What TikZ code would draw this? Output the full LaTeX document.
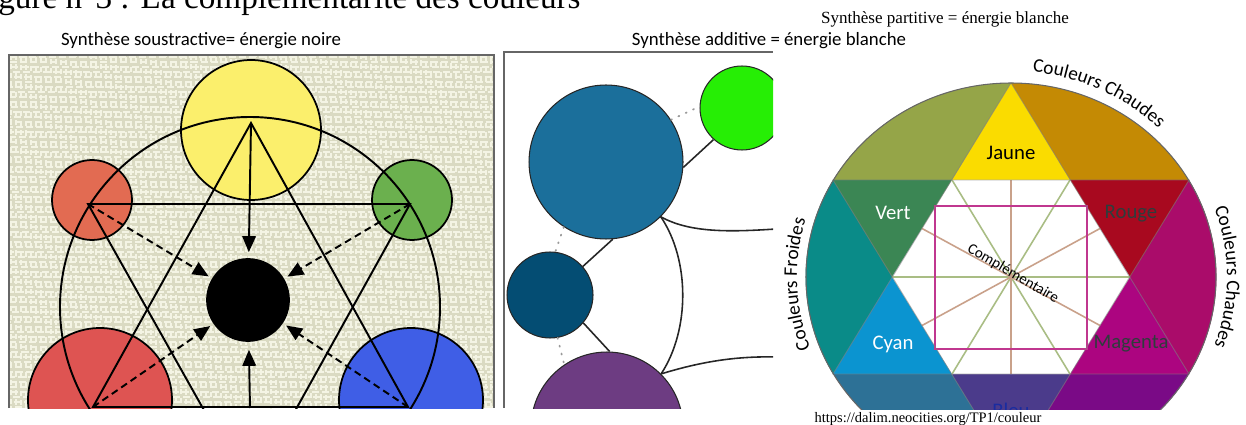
\documentclass[tikz,border=0pt]{standalone}
\usepackage{fontspec}
\setmainfont{Liberation Serif}
\setsansfont{Carlito}
\usetikzlibrary{arrows.meta,calc,decorations.text}

\definecolor{paperbase}{HTML}{DADAC2}
\definecolor{paperlight}{HTML}{F4F4E4}
\definecolor{sunyellow}{HTML}{FBEF6C}
\definecolor{coral}{HTML}{E26B52}
\definecolor{leaf}{HTML}{6BB04E}
\definecolor{brick}{HTML}{DE5452}
\definecolor{royal}{HTML}{3F5EE6}
\definecolor{petrol}{HTML}{1B6F9B}
\definecolor{neon}{HTML}{26EE05}
\definecolor{navy}{HTML}{044D73}
\definecolor{plum}{HTML}{6D3C82}
\definecolor{wOlive}{HTML}{95A548}
\definecolor{wOchre}{HTML}{C48A04}
\definecolor{wCrimson}{HTML}{AA0C6A}
\definecolor{wPurple}{HTML}{7A0A86}
\definecolor{wSteel}{HTML}{2D7196}
\definecolor{wTeal}{HTML}{0A8B88}
\definecolor{wJaune}{HTML}{FADC00}
\definecolor{wRouge}{HTML}{A8091F}
\definecolor{wMagenta}{HTML}{AC0580}
\definecolor{wBleu}{HTML}{4B3B8B}
\definecolor{wCyan}{HTML}{0B94D0}
\definecolor{wVert}{HTML}{3B8654}
\definecolor{spokeBrown}{HTML}{C9A18A}
\definecolor{spokeGreen}{HTML}{A9BD84}
\definecolor{squareMag}{HTML}{C0378F}
\definecolor{darkText}{HTML}{2E3D3C}
\definecolor{bleuText}{HTML}{1A2CA0}

\newcommand\wheelfont{\sffamily\fontsize{11}{13}\selectfont}

\begin{document}
\begin{tikzpicture}[x=0.02cm,y=-0.02cm,
    every node/.style={inner sep=0pt},
    ball/.style={circle,draw=black,line width=1pt,inner sep=0pt},
    bubble/.style={circle,draw=black!85,line width=0.6pt,inner sep=0pt},
    hexline/.style={draw=black,line width=1.1pt},
    solidarrow/.style={hexline,-{Triangle[length=0.32cm,width=0.27cm]}},
    dasharrow/.style={solidarrow,dash pattern=on 4pt off 2.5pt,shorten >=0.08cm},
    link/.style={draw=black!85,line width=0.9pt},
    dots/.style={draw=black!40,line width=1pt,dash pattern=on 0.6pt off 4pt,line cap=round},
    panel/.style={draw=black!60,line width=0.8pt},
    wlabel/.style={font=\sffamily\fontsize{11.8}{14}\selectfont},
    spoke/.style={line width=0.9pt},
    seam/.style={draw=black!50,line width=0.5pt,opacity=0.6}]

  \useasboundingbox (0,0) rectangle (1246,425);
  \clip (0,0) rectangle (1246,425);

  % heading, cut at the top
  \node[anchor=base west,font=\fontsize{18.9}{20}\selectfont] (heading) at (-2,9) {gure n°3 : La complémentarité des couleurs};

  % titles
  \node[anchor=base,font=\sffamily\fontsize{10.7}{12}\selectfont] (ttlSous) at (201,46) {Synthèse soustractive= énergie noire};
  \node[anchor=base,font=\fontsize{9.7}{11}\selectfont] (ttlPart) at (945,24) {Synthèse partitive = énergie blanche};
  \node[anchor=base,font=\fontsize{8.25}{10}\selectfont] (url) at (928,422) {https://dalim.neocities.org/TP1/couleur};

  % left panel: subtractive
  \begin{scope}
    \clip (9,55) rectangle (494,408);
    \fill[paperbase] (9,55) rectangle (494,408);
    \foreach \yy in {57,62,...,407}
      \draw[paperlight,line width=1.2pt,dash pattern=on 4pt off 1.7pt,dash phase=\yy pt] (9,\yy) -- (494,\yy);
    \foreach \xx in {11,16,...,494}
      \draw[paperlight,line width=1.2pt,dash pattern=on 3pt off 2.3pt,dash phase=\xx pt] (\xx,55) -- (\xx,408);

    \node[ball,fill=sunyellow,minimum size=2.8cm] (yel) at (251,130) {};
    \node[ball,fill=coral,minimum size=1.6cm] (org) at (92,200) {};
    \node[ball,fill=leaf,minimum size=1.6cm] (grn) at (412,200) {};
    \node[ball,fill=black,minimum size=1.64cm] (blk) at (248,300) {};
    \node[ball,fill=brick,minimum size=2.88cm] (red) at (100,400) {};
    \node[ball,fill=royal,minimum size=2.88cm] (blu) at (411,400) {};

    \coordinate (vT) at (251,123);
    \coordinate (vUL) at (88,204);
    \coordinate (vUR) at (410,204);
    \coordinate (vLL) at (93,407);
    \coordinate (vLR) at (408,407);
    \coordinate (vB) at (250,492);
    \coordinate (vBot) at (250,408);

    \draw[hexline] (250,307) circle[radius=190];
    \draw[hexline] (vUL) -- (vUR) -- (vB) -- cycle;
    \draw[hexline] (vT) -- (vLL) -- (vLR) -- cycle;

    \path (vT) edge[solidarrow,shorten >=0.12cm] (blk);
    \path (vBot) edge[solidarrow,shorten >=0.16cm] (blk);
    \path (vUL) edge[dasharrow] (blk);
    \path (vUR) edge[dasharrow] (blk);
    \path (vLL) edge[dasharrow] (blk);
    \path (vLR) edge[dasharrow] (blk);
  \end{scope}
  \draw[panel] (9,408) -- (9,55) -- (494,55) -- (494,408);

  % middle panel: additive
  \begin{scope}
    \clip (504,52) rectangle (773,408);
    \node[bubble,fill=petrol,minimum size=3.08cm] (bb) at (606,162) {};
    \node[bubble,fill=neon,minimum size=1.68cm] (gr) at (742,108) {};
    \node[bubble,fill=navy,minimum size=1.72cm] (db) at (550,295) {};
    \node[bubble,fill=plum,minimum size=3.04cm] (pu) at (607,428) {};
    \coordinate (endA) at (776,229);
    \coordinate (endB) at (776,357);

    \path (bb.-4) edge[link] (gr.-132);
    \path (bb.-85) edge[link] (db.41);
    \path (db.-40) edge[link] (pu.88);
    \path (bb.33) edge[dots] (gr.178);
    \path (bb.-123) edge[dots] (db.83);
    \path (db.-80) edge[dots] (pu.124);
    \draw[link] (bb.-45) .. controls (690,233) and (730,232) .. (endA);
    \draw[link] (bb.-45) .. controls (690,260) and (690,330) .. (pu.45);
    \draw[link] (pu.45) .. controls (700,362) and (735,356) .. (endB);
  \end{scope}
  \draw[panel] (504,408) -- (504,52) -- (773,52);
  \node[anchor=base,font=\sffamily\fontsize{10.7}{12}\selectfont] (ttlAdd) at (769,46) {Synthèse additive = énergie blanche};

  % right panel: colour wheel
  \coordinate (wc) at (1011,277);
  \coordinate (wT) at (1011,83);
  \coordinate (wUR) at (1189,180);
  \coordinate (wLR) at (1189,374);
  \coordinate (wB) at (1011,471);
  \coordinate (wLL) at (833,374);
  \coordinate (wUL) at (833,180);
  \coordinate (h1) at (952,180);
  \coordinate (h2) at (1070,180);
  \coordinate (h3) at (1130,277);
  \coordinate (h4) at (1070,374);
  \coordinate (h5) at (952,374);
  \coordinate (h6) at (892,277);
  \begin{scope}
    \clip (775,0) rectangle (1246,409);
    \fill[wOlive] (wc) -- (wUL) arc[start angle=210,end angle=270,x radius=205,y radius=194] -- cycle;
    \fill[wOchre] (wc) -- (wT) arc[start angle=270,end angle=330,x radius=205,y radius=194] -- cycle;
    \fill[wCrimson] (wc) -- (wUR) arc[start angle=330,end angle=390,x radius=205,y radius=194] -- cycle;
    \fill[wPurple] (wc) -- (wLR) arc[start angle=30,end angle=90,x radius=205,y radius=194] -- cycle;
    \fill[wSteel] (wc) -- (wB) arc[start angle=90,end angle=150,x radius=205,y radius=194] -- cycle;
    \fill[wTeal] (wc) -- (wLL) arc[start angle=150,end angle=210,x radius=205,y radius=194] -- cycle;

    \fill[wJaune] (wT) -- (h1) -- (h2) -- cycle;
    \fill[wRouge] (h2) -- (wUR) -- (h3) -- cycle;
    \fill[wMagenta] (h3) -- (wLR) -- (h4) -- cycle;
    \fill[wBleu] (h4) -- (wB) -- (h5) -- cycle;
    \fill[wCyan] (h5) -- (wLL) -- (h6) -- cycle;
    \fill[wVert] (h6) -- (wUL) -- (h1) -- cycle;
    \fill[white] (h1) -- (h2) -- (h3) -- (h4) -- (h5) -- (h6) -- cycle;

    \draw[spoke,spokeGreen] (h6) -- (h3);
    \draw[spoke,spokeGreen] (h1) -- (h4);
    \draw[spoke,spokeGreen] (h2) -- (h5);
    \draw[spoke,spokeBrown] ($(h1)!.5!(h2)$) -- ($(h4)!.5!(h5)$);
    \draw[spoke,spokeBrown] ($(h6)!.5!(h1)$) -- ($(h3)!.5!(h4)$);
    \draw[spoke,spokeBrown] ($(h5)!.5!(h6)$) -- ($(h2)!.5!(h3)$);
    \draw[squareMag,line width=1pt] (935,206) rectangle (1087,349);

    \draw[seam] (wT) -- (wLL) -- (wLR) -- cycle;
    \draw[seam] (wUL) -- (wUR) -- (wB) -- cycle;
    \draw[draw=black!60,line width=0.6pt] (wc) ellipse[x radius=205,y radius=194];

    \node[wlabel,text=black] (lJaune) at (1011,153) {Jaune};
    \node[wlabel,text=white] (lVert) at (893,213) {Vert};
    \node[wlabel,text=darkText] (lRouge) at (1131,214) {Rouge};
    \node[wlabel,text=white] (lCyan) at (893,344) {Cyan};
    \node[wlabel,text=darkText] (lMagenta) at (1131,344) {Magenta};
    \node[wlabel,text=bleuText] (lBleu) at (1011,410) {Bleu};
    \node[font=\sffamily\fontsize{8.6}{10}\selectfont,rotate=-30] (lCompl) at (1013,274) {Complémentaire};
  \end{scope}

  \path[decorate,decoration={text along path,text={|\wheelfont|Couleurs Chaudes},text align=center}]
    ($(wc)+(260:213 and 206)$) arc[start angle=260,end angle=330,x radius=213,y radius=206];
  \path[decorate,decoration={text along path,text={|\wheelfont|Couleurs Chaudes},text align=center}]
    ($(wc)+(-30:216 and 204)$) arc[start angle=-30,end angle=30,x radius=216,y radius=204];
  \path[decorate,decoration={text along path,text={|\wheelfont|Couleurs Froides},text align=center}]
    ($(wc)+(148:214 and 204)$) arc[start angle=148,end angle=208,x radius=214,y radius=204];
\end{tikzpicture}
\end{document}
